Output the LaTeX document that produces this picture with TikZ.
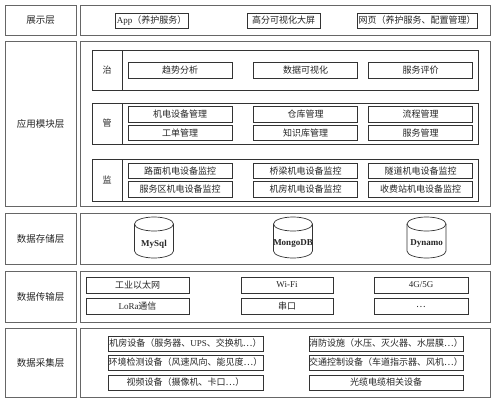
\documentclass[tikz,border=0pt]{standalone}
\usepackage{fontspec}
\setmainfont{Liberation Serif}
\newfontfamily\cjkfont{Noto Sans CJK SC}
\newcommand{\zh}[1]{{\cjkfont #1}}
\begin{document}
\begin{tikzpicture}[x=1pt,y=1pt,
  frame/.style={draw=black!60, line width=0.7pt, rectangle, inner sep=0pt, text=black!85, font=\fontsize{9.5}{11}\selectfont},
  item/.style={draw=black!80, line width=0.7pt, rectangle, inner sep=0pt, text=black!85, font=\fontsize{9}{10}\selectfont},
  db/.style={draw=black!80, line width=0.7pt},
  dbtext/.style={font=\bfseries\fontsize{9}{10}\selectfont, text=black!85, inner sep=0pt}]
\useasboundingbox (0,0) rectangle (500,-401);
\fill[white] (0,0) rectangle (500,-401);
% ---------- layer 1
\node[frame, minimum width=71, minimum height=30] (l1) at (40.5,-20) {\zh{展示层}};
\node[frame, minimum width=410, minimum height=30] (r1) at (285,-20) {};
\node[item, minimum width=73, minimum height=15] (app) at (151.5,-20.5) {App\zh{（养护服务）}};
\node[item, minimum width=73, minimum height=15] (screen) at (283.5,-20.5) {\zh{高分可视化大屏}};
\node[item, minimum width=120, minimum height=15] (web) at (417,-20.5) {\zh{网页（养护服务、配置管理）}};
% ---------- layer 2
\node[frame, minimum width=71, minimum height=165] (l2) at (40.5,-123.5) {\zh{应用模块层}};
\node[frame, minimum width=410, minimum height=165] (r2) at (285,-123.5) {};
% zhi
\node[item, minimum width=386, minimum height=40] (gzhi) at (285,-70) {};
\node[item, minimum width=30, minimum height=40] (zhi) at (107,-70) {\zh{治}};
\node[item, minimum width=104, minimum height=16] (qsfx) at (180,-70) {\zh{趋势分析}};
\node[item, minimum width=104, minimum height=16] (sjksh) at (305.5,-70) {\zh{数据可视化}};
\node[item, minimum width=104, minimum height=16] (fwpj) at (420.5,-70) {\zh{服务评价}};
% guan
\node[item, minimum width=386, minimum height=41] (gguan) at (285,-123.5) {};
\node[item, minimum width=30, minimum height=41] (guan) at (107,-123.5) {\zh{管}};
\node[item, minimum width=104, minimum height=15.5] (jdsb) at (180,-114.5) {\zh{机电设备管理}};
\node[item, minimum width=104, minimum height=15.5] (ckgl) at (305.5,-114.5) {\zh{仓库管理}};
\node[item, minimum width=104, minimum height=15.5] (lcgl) at (420.5,-114.5) {\zh{流程管理}};
\node[item, minimum width=104, minimum height=15.5] (gdgl) at (180,-133) {\zh{工单管理}};
\node[item, minimum width=104, minimum height=15.5] (zskgl) at (305.5,-133) {\zh{知识库管理}};
\node[item, minimum width=104, minimum height=15.5] (fwgl) at (420.5,-133) {\zh{服务管理}};
% jian
\node[item, minimum width=386, minimum height=42] (gjian) at (285,-180) {};
\node[item, minimum width=30, minimum height=42] (jian) at (107,-180) {\zh{监}};
\node[item, minimum width=104, minimum height=15.5] (lmjk) at (180,-171) {\zh{路面机电设备监控}};
\node[item, minimum width=104, minimum height=15.5] (qljk) at (305.5,-171) {\zh{桥梁机电设备监控}};
\node[item, minimum width=104, minimum height=15.5] (sdjk) at (420.5,-171) {\zh{隧道机电设备监控}};
\node[item, minimum width=104, minimum height=15.5] (fwqjk) at (180,-189.5) {\zh{服务区机电设备监控}};
\node[item, minimum width=104, minimum height=15.5] (jfjk) at (305.5,-189.5) {\zh{机房机电设备监控}};
\node[item, minimum width=104, minimum height=15.5] (sfzjk) at (420.5,-189.5) {\zh{收费站机电设备监控}};
% ---------- layer 3
\node[frame, minimum width=71, minimum height=51] (l3) at (40.5,-238.5) {\zh{数据存储层}};
\node[frame, minimum width=410, minimum height=51] (r3) at (285,-238.5) {};
\foreach \cx in {154,293,426.5}{
  \draw[db, fill=white] (\cx-19.5,-224) -- (\cx-19.5,-251) arc[start angle=180, end angle=360, x radius=19.5, y radius=7] -- (\cx+19.5,-224);
  \draw[db] (\cx,-224) ellipse [x radius=19.5, y radius=7];
}
\node[dbtext] (mysql) at (154,-244) {MySql};
\node[dbtext] (mongo) at (293,-244) {MongoDB};
\node[dbtext] (dynamo) at (426.5,-244) {Dynamo};
% ---------- layer 4
\node[frame, minimum width=71, minimum height=51] (l4) at (40.5,-296.5) {\zh{数据传输层}};
\node[frame, minimum width=410, minimum height=51] (r4) at (285,-296.5) {};
\node[item, minimum width=103, minimum height=16] (eth) at (137.5,-285) {\zh{工业以太网}};
\node[item, minimum width=92, minimum height=16] (wifi) at (287,-285) {Wi-Fi};
\node[item, minimum width=94, minimum height=16] (g45) at (421,-285) {4G/5G};
\node[item, minimum width=103, minimum height=15.5] (lora) at (137.5,-306.5) {LoRa\zh{通信}};
\node[item, minimum width=92, minimum height=15.5] (serial) at (287,-306.5) {\zh{串口}};
\node[item, minimum width=94, minimum height=15.5] (etc) at (421,-306.5) {\zh{…}};
% ---------- layer 5
\node[frame, minimum width=71, minimum height=69] (l5) at (40.5,-362.5) {\zh{数据采集层}};
\node[frame, minimum width=410, minimum height=69] (r5) at (285,-362.5) {};
\node[item, minimum width=155, minimum height=15] (jfsb) at (185.5,-343.5) {\zh{机房设备（服务器、}UPS\zh{、交换机…）}};
\node[item, minimum width=155, minimum height=15] (hjjc) at (185.5,-362.5) {\zh{环境检测设备（风速风向、能见度…）}};
\node[item, minimum width=155, minimum height=15] (spsb) at (185.5,-382.5) {\zh{视频设备（摄像机、卡口…）}};
\node[item, minimum width=154, minimum height=15] (xfss) at (386,-343.5) {\zh{消防设施（水压、灭火器、水层膜…）}};
\node[item, minimum width=154, minimum height=15] (jtkz) at (386,-362.5) {\zh{交通控制设备（车道指示器、风机…）}};
\node[item, minimum width=154, minimum height=15] (gldl) at (386,-382.5) {\zh{光缆电缆相关设备}};
\end{tikzpicture}
\end{document}
